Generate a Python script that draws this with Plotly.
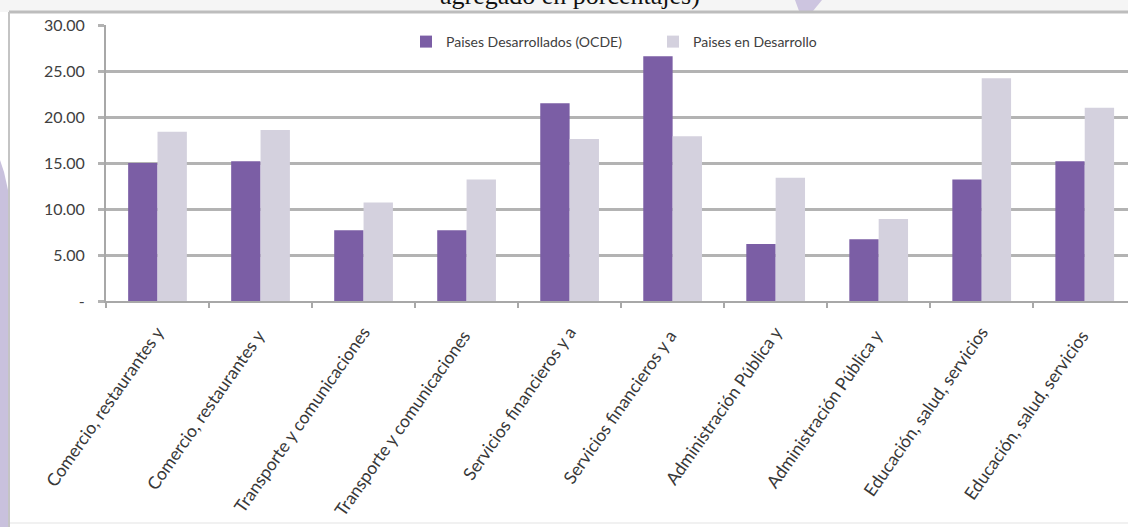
import plotly.graph_objects as go

# Sector labels (each appears twice in the source table)
categories = [
    "Comercio, restaurantes y",
    "Comercio, restaurantes y ",
    "Transporte y comunicaciones",
    "Transporte y comunicaciones ",
    "Servicios financieros y a",
    "Servicios financieros y a ",
    "Administración Pública y",
    "Administración Pública y ",
    "Educación, salud, servicios",
    "Educación, salud, servicios ",
]

# Share of aggregate (%) by group of countries
desarrollados = [15.0, 15.2, 7.7, 7.7, 21.5, 26.6, 6.2, 6.7, 13.2, 15.2]
en_desarrollo = [18.4, 18.6, 10.7, 13.2, 17.6, 17.9, 13.4, 8.9, 24.2, 21.0]

y_tickvals = [0, 5, 10, 15, 20, 25, 30]
y_ticktext = ["-", "5.00", "10.00", "15.00", "20.00", "25.00", "30.00"]

W, H = 1128, 527
M_L, M_R, M_T, M_B = 106, 0, 25, 226
PW, PH = W - M_L - M_R, H - M_T - M_B


def px(x):
    return (x - M_L) / PW


def py(y):
    return (H - M_B - y) / PH


FONT = "Lato, Roboto, sans-serif"
PURPLE = "#7b5ea5"
LIGHT = "#d4d1de"

fig = go.Figure()
fig.add_trace(go.Bar(x=categories, y=desarrollados, name="Paises Desarrollados (OCDE)",
                     marker=dict(color=PURPLE, line=dict(width=0))))
fig.add_trace(go.Bar(x=categories, y=en_desarrollo, name="Paises en Desarrollo",
                     marker=dict(color=LIGHT, line=dict(width=0))))

shapes = [
    # light strip above the chart frame
    dict(type="rect", xref="paper", yref="paper", x0=px(0), x1=px(W), y0=py(0), y1=py(12),
         fillcolor="#f5f5f5", line=dict(width=0), layer="below"),
    # decorative lavender stroke at the top
    dict(type="path", xref="paper", yref="paper",
         path=f"M {px(795)} {py(0)} L {px(822)} {py(0)} L {px(813)} {py(11)} L {px(799)} {py(11)} Z",
         fillcolor="#cdc5e0", line=dict(width=0), layer="below"),
    # lavender band on the left edge
    dict(type="path", xref="paper", yref="paper",
         path=f"M {px(0)} {py(H)} L {px(0)} {py(160)} L {px(4)} {py(172)} L {px(8)} {py(190)} L {px(8)} {py(H)} Z",
         fillcolor="#c9c1dd", line=dict(width=0), layer="below"),
    # chart frame: top and left borders, faint bottom
    dict(type="line", xref="paper", yref="paper", x0=px(9), x1=px(W), y0=py(12), y1=py(12),
         line=dict(color="#bdbdbd", width=3), layer="below"),
    dict(type="line", xref="paper", yref="paper", x0=px(9), x1=px(9), y0=py(12), y1=py(H),
         line=dict(color="#c4c4c4", width=2), layer="below"),
    dict(type="line", xref="paper", yref="paper", x0=px(10), x1=px(W), y0=py(523), y1=py(523),
         line=dict(color="#ececec", width=1.5), layer="below"),
]

fig.update_layout(
    width=W, height=H,
    margin=dict(l=M_L, r=M_R, t=M_T, b=M_B, pad=0, autoexpand=False),
    paper_bgcolor="white", plot_bgcolor="white",
    barmode="group", bargap=0.43, bargroupgap=0,
    font=dict(family=FONT, color="#404040"),
    showlegend=True,
    legend=dict(orientation="h", x=px(406), y=py(42), xanchor="left", yanchor="middle",
                font=dict(family=FONT, size=14, color="#404040"),
                bgcolor="rgba(0,0,0,0)", itemwidth=30,
                entrywidth=202, entrywidthmode="pixels", traceorder="normal"),
    shapes=shapes,
    annotations=[
        dict(text="agregado en porcentajes)", xref="paper", yref="paper",
             x=px(570), y=py(12), xanchor="center", yanchor="bottom", showarrow=False,
             font=dict(family="Liberation Serif, Times New Roman, serif", size=26, color="#111111")),
    ],
)

fig.update_xaxes(
    type="category", range=[-0.5, 9.42], autorange=False, automargin=False,
    showline=True, linecolor="#a8a8a8", linewidth=2,
    ticks="outside", tickson="boundaries", ticklen=5, tickcolor="#a8a8a8", tickwidth=1.5,
    tickangle=-55, tickfont=dict(family=FONT, size=17.5, color="#383838"),
    ticklabelstandoff=12,
    showgrid=False, zeroline=False, fixedrange=True,
)
fig.update_yaxes(
    range=[0, 30], autorange=False, automargin=False,
    tickvals=y_tickvals, ticktext=y_ticktext,
    showgrid=True, gridcolor="#b3b3b3", gridwidth=2.5,
    showline=True, linecolor="#a8a8a8", linewidth=2,
    ticks="outside", ticklen=6, tickcolor="#b3b3b3", tickwidth=2.5,
    tickfont=dict(family=FONT, size=16, color="#404040"),
    ticklabelstandoff=10,
    zeroline=False, fixedrange=True,
)

fig.write_html("out.html")
